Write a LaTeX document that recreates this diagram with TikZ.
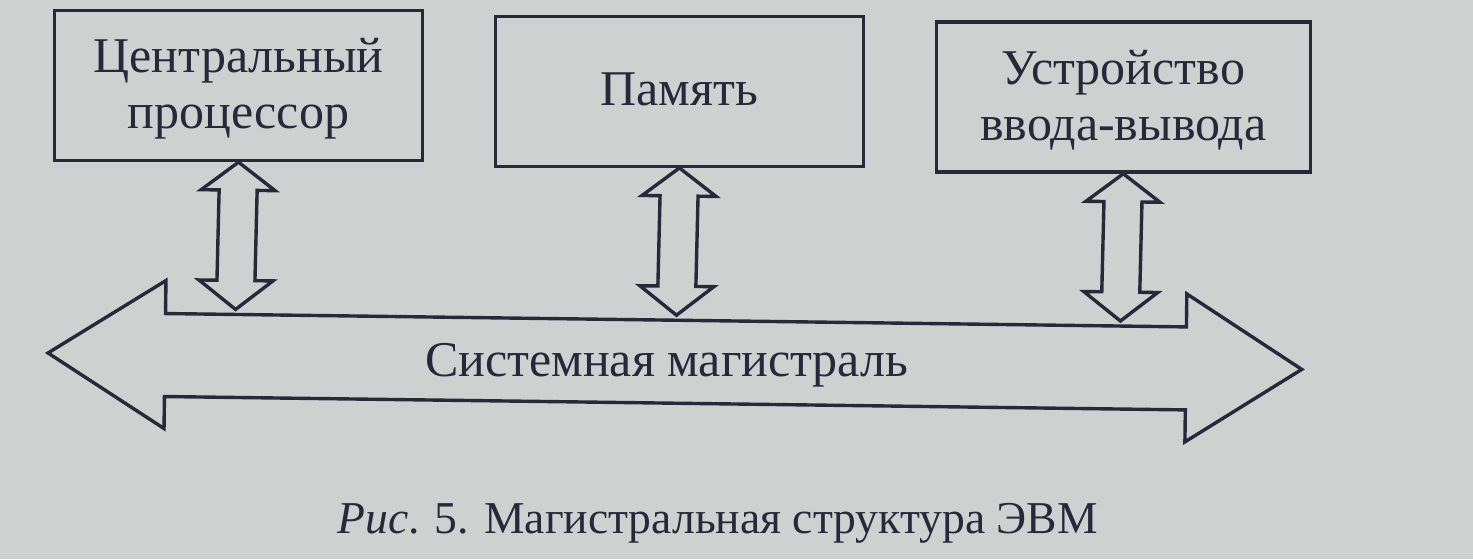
\documentclass[tikz,border=0pt]{standalone}
\usepackage{fontspec}
\setmainfont{Liberation Serif}
\usetikzlibrary{calc}
\definecolor{paper}{HTML}{CDD1D0}
\definecolor{ink}{HTML}{26293A}
\begin{document}
\begin{tikzpicture}[x=0.5pt,y=-0.5pt,
  box/.style={draw=ink, line width=1.7pt, minimum width=184pt, minimum height=75pt,
    align=center, inner sep=0pt, text=ink, font=\fontsize{25pt}{28pt}\selectfont},
  arr/.style={draw=ink, line width=1.7pt, line join=miter},
  lbl/.style={text=ink, font=\fontsize{25pt}{28pt}\selectfont, inner sep=0pt},
  capt/.style={text=ink, font=\fontsize{22.8pt}{26pt}\selectfont, inner sep=0pt}]
\fill[paper] (0,0) rectangle (1473,559);
\useasboundingbox (0,0) rectangle (1473,559);
\begin{scope}[rotate around={-0.75:(736,280)}]
  \node[box, text depth=2pt] (b1) at (236,92) {Центральный\\процессор};
  \node[box, text depth=2pt] (b2) at (677,92) {Память};
  \node[box, text depth=2pt, minimum width=187pt] (b3) at (1121,92) {Устройство\\ввода-вывода};
  % system bus
  \coordinate (L) at (49,362);
  \coordinate (R) at (1303,362);
  \draw[arr] (L) -- (166,288) -- (166,321) -- (1187,321) -- (1187,288) -- (R)
    -- (1187,436) -- (1187,404) -- (166,404) -- (166,436) -- cycle;
  \node[lbl, anchor=base] (bus) at (668,377) {Системная магистраль};
  \coordinate (t1) at (236,316);
  \coordinate (t2) at (677,316);
  \coordinate (t3) at (1121,316);
  \foreach \b/\t in {b1/t1,b2/t2,b3/t3}
    \draw[arr] (\b.south) -- ++(37,28) -- ++(-18,0) -- ($(\t)+(19,-29)$) -- ++(18,0)
      -- (\t) -- ++(-37,-29) -- ++(18,0) -- ($(\b.south)+(-19,28)$) -- ++(-18,0) -- cycle;
  \node[capt, anchor=base] (fig) at (721,534) {\textit{Рис}. 5. Магистральная структура ЭВМ};
\end{scope}
\end{tikzpicture}
\end{document}
